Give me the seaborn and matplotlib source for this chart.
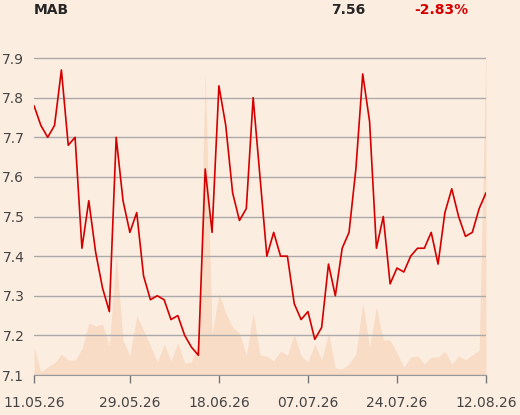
import matplotlib
matplotlib.use("Agg")
import matplotlib.pyplot as plt
import seaborn as sns
import numpy as np

symbol = "MAB"
last_price = "7.56"
change = "-2.83%"

price = [7.78, 7.73, 7.70, 7.73, 7.87, 7.68, 7.70, 7.42, 7.54, 7.41,
         7.32, 7.26, 7.70, 7.54, 7.46, 7.51, 7.35, 7.29, 7.30, 7.29,
         7.24, 7.25, 7.20, 7.17, 7.15, 7.62, 7.46, 7.83, 7.73, 7.56,
         7.49, 7.52, 7.80, 7.60, 7.40, 7.46, 7.40, 7.40, 7.28, 7.24,
         7.26, 7.19, 7.22, 7.38, 7.30, 7.42, 7.46, 7.62, 7.86, 7.74,
         7.42, 7.50, 7.33, 7.37, 7.36, 7.40, 7.42, 7.42, 7.46, 7.38,
         7.51, 7.57, 7.50, 7.45, 7.46, 7.52, 7.56]

volume = [28, 3, 8, 12, 21, 15, 15, 26, 52, 49,
          51, 29, 120, 35, 19, 59, 45, 29, 13, 31,
          14, 32, 12, 13, 33, 302, 40, 82, 62, 48,
          42, 20, 62, 20, 19, 14, 24, 20, 41, 19,
          13, 31, 15, 42, 7, 6, 11, 21, 72, 28,
          68, 35, 35, 22, 8, 18, 19, 11, 18, 18,
          24, 11, 19, 15, 20, 25, 327]

tick_labels = ["11.05.26", "29.05.26", "18.06.26", "07.07.26", "24.07.26", "12.08.26"]
tick_index = [0, 14, 27, 40, 53, 66]

bg = "#fcede1"
sns.set_style("white")
plt.rcParams["font.family"] = ["DejaVu Sans"]

fig = plt.figure(figsize=(5.2, 4.15), dpi=100, facecolor=bg)
ax_v = fig.add_axes([34 / 520, 40 / 415, 452 / 520, 330 / 415])
ax = ax_v.twinx()
ax_v.set_facecolor(bg)
ax.patch.set_visible(False)

x = np.arange(len(price))
ax_v.fill_between(x, volume, 0, color="#f9dcc6", lw=0)
ax_v.set_ylim(0, 330)
ax_v.set_yticks([])

sns.lineplot(x=x, y=price, ax=ax, color="#d40000", lw=1.2)
ax.set_ylim(7.1, 7.933)
ax.set_xlim(0, len(price) - 1)
ax.yaxis.tick_left()
ax.set_yticks([7.1, 7.2, 7.3, 7.4, 7.5, 7.6, 7.7, 7.8, 7.9])
ax.set_yticklabels([f"{v:.1f}" for v in ax.get_yticks()])
ax.grid(axis="y", color="#aaaaaa", lw=1)
ax.tick_params(axis="y", length=0, pad=7, labelsize=10, labelcolor="#444444")

ax_v.set_xticks(tick_index)
ax_v.set_xticklabels(tick_labels)
ax_v.tick_params(axis="x", bottom=True, direction="out", length=6, width=1,
                 color="#777777", pad=9, labelsize=10, labelcolor="#444444")

for a in (ax, ax_v):
    for s in a.spines.values():
        s.set_visible(False)
ax_v.spines["bottom"].set_visible(True)
ax_v.spines["bottom"].set_color("#999999")

fig.text(34 / 520, 1 - 10 / 415, symbol, fontsize=10, fontweight="bold", va="center")
fig.text(348 / 520, 1 - 10 / 415, last_price, fontsize=10, fontweight="bold", va="center", ha="center")
fig.text(441 / 520, 1 - 10 / 415, change, fontsize=10, fontweight="bold", va="center", ha="center", color="#d40000")

fig.savefig("out.png", dpi=100, facecolor=bg)
